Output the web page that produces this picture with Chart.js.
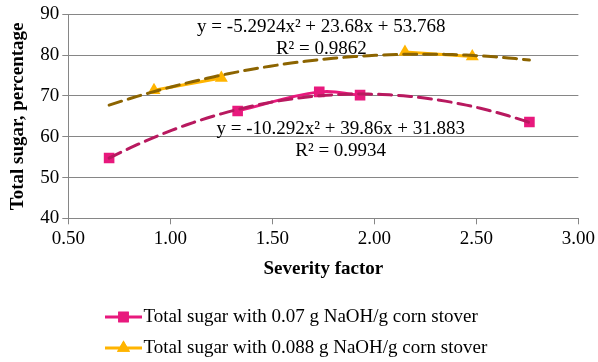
<!DOCTYPE html>
<html>
<head>
<meta charset="utf-8">
<script src="https://cdn.jsdelivr.net/npm/chart.js@4"></script>
<style>
  body { margin: 0; background: #fff; }
  #wrap { width: 598px; height: 362px; }
</style>
</head>
<body>
<div id="wrap"><canvas id="myChart" width="598" height="362"></canvas></div>
<script>
// severity factor (x) and total sugar (%) per series; null = gap in the line
const pinkX = [0.70, null, 1.33, 1.73, 1.93, null, 2.76];
const pinkY = [54.8, null, 66.3, 71.0, 70.2, null, 63.6];
const yellowX = [0.92, 1.25, null, 2.15, 2.48];
const yellowY = [71.4, 74.4, null, 80.8, 79.7];

// polynomial trendlines printed on the chart: [a, b, c] for a*x^2 + b*x + c
const pinkTrend = [-10.292, 39.86, 31.883];
const yellowTrend = [-5.2924, 23.68, 53.768];
const trendRange = [0.70, 2.76];

const pinkEq = ["y = -10.292x² + 39.86x + 31.883", "R² = 0.9934"];
const yellowEq = ["y = -5.2924x² + 23.68x + 53.768", "R² = 0.9862"];

const legendLabels = [
  "Total sugar with 0.07 g NaOH/g corn stover",
  "Total sugar with 0.088 g NaOH/g corn stover",
];

const PINK = "#e8197d";
const PINK_TREND = "#b8195f";
const YELLOW = "#ffb400";
const OLIVE = "#8c6400";
const GRID = "#868686";
const FONT = "'Liberation Serif', 'Times New Roman', serif";

const toPoints = (xs, ys) => xs.map((x, i) => ({ x: x, y: ys[i] }));

const trendPoints = (coef) => {
  const pts = [];
  const n = 60;
  for (let i = 0; i <= n; i++) {
    const x = trendRange[0] + (trendRange[1] - trendRange[0]) * i / n;
    pts.push({ x: x, y: coef[0] * x * x + coef[1] * x + coef[2] });
  }
  return pts;
};

// equation labels, placed in data units
const eqLabels = {
  id: "eqLabels",
  afterDatasetsDraw(chart) {
    const { ctx, scales } = chart;
    const xs = scales.x, ys = scales.y;
    ctx.save();
    ctx.font = "19px " + FONT;
    ctx.fillStyle = "#000";
    ctx.textAlign = "center";
    ctx.textBaseline = "middle";
    ctx.fillText(yellowEq[0], xs.getPixelForValue(1.74), ys.getPixelForValue(87.0));
    ctx.fillText(yellowEq[1], xs.getPixelForValue(1.74), ys.getPixelForValue(81.6));
    ctx.fillText(pinkEq[0], xs.getPixelForValue(1.835), ys.getPixelForValue(62.0));
    ctx.fillText(pinkEq[1], xs.getPixelForValue(1.835), ys.getPixelForValue(56.6));
    ctx.restore();
  },
};

// legend below the chart: line with marker, then label
const bottomLegend = {
  id: "bottomLegend",
  afterDraw(chart) {
    const ctx = chart.ctx;
    const rows = [
      { color: PINK, style: "rect", y: 317 },
      { color: YELLOW, style: "triangle", y: 348 },
    ];
    ctx.save();
    rows.forEach((r, i) => {
      ctx.strokeStyle = r.color;
      ctx.lineWidth = 3;
      ctx.beginPath();
      ctx.moveTo(105, r.y);
      ctx.lineTo(142, r.y);
      ctx.stroke();
      ctx.fillStyle = r.color;
      Chart.helpers.drawPoint(ctx, { pointStyle: r.style, radius: 7.5, borderWidth: 0 }, 123.5, r.y);
      ctx.fill();
      ctx.fillStyle = "#000";
      ctx.font = "19px " + FONT;
      ctx.textAlign = "left";
      ctx.textBaseline = "middle";
      ctx.fillText(legendLabels[i], 143.5, r.y);
    });
    ctx.restore();
  },
};

const ctx = document.getElementById("myChart").getContext("2d");
new Chart(ctx, {
  type: "scatter",
  data: {
    datasets: [
      {
        label: "pink trend",
        data: trendPoints(pinkTrend),
        showLine: true,
        borderColor: PINK_TREND,
        borderWidth: 3,
        borderDash: [13, 7],
        borderCapStyle: "round",
        pointRadius: 0,
      },
      {
        label: "yellow trend",
        data: trendPoints(yellowTrend),
        showLine: true,
        borderColor: OLIVE,
        borderWidth: 3,
        borderDash: [13, 7],
        borderCapStyle: "round",
        pointRadius: 0,
      },
      {
        label: legendLabels[0],
        data: toPoints(pinkX, pinkY),
        showLine: true,
        tension: 0.4,
        borderColor: PINK,
        borderWidth: 3,
        pointStyle: "rect",
        pointRadius: 7.5,
        pointBackgroundColor: PINK,
        pointBorderWidth: 0,
      },
      {
        label: legendLabels[1],
        data: toPoints(yellowX, yellowY),
        showLine: true,
        borderColor: YELLOW,
        borderWidth: 3,
        pointStyle: "triangle",
        pointRadius: 7.5,
        pointBackgroundColor: YELLOW,
        pointBorderWidth: 0,
      },
    ],
  },
  options: {
    responsive: false,
    animation: false,
    layout: { padding: { top: 12.7, right: 18.7, bottom: 81.3, left: 0 } },
    plugins: {
      legend: { display: false },
      tooltip: { enabled: false },
    },
    scales: {
      x: {
        type: "linear",
        min: 0.5,
        max: 3.0,
        afterFit: (s) => { s.height = 62.4; },
        ticks: {
          stepSize: 0.5,
          padding: 3,
          color: "#000",
          font: { family: FONT, size: 19 },
          callback: (v) => v.toFixed(2),
        },
        grid: { drawOnChartArea: false, drawTicks: true, tickLength: 6, color: GRID },
        border: { color: GRID },
        title: {
          display: true,
          text: "Severity factor",
          color: "#000",
          font: { family: FONT, size: 19, weight: "bold" },
          padding: { top: 0, bottom: 0 },
        },
      },
      y: {
        min: 40,
        max: 90,
        afterFit: (s) => { s.width = 68.3; },
        ticks: {
          stepSize: 10,
          padding: 3,
          color: "#000",
          font: { family: FONT, size: 19 },
        },
        grid: { color: GRID, tickLength: 6 },
        border: { color: GRID },
        title: {
          display: true,
          text: "Total sugar, percentage",
          color: "#000",
          font: { family: FONT, size: 19, weight: "bold" },
          padding: { top: 7, bottom: 0 },
        },
      },
    },
  },
  plugins: [eqLabels, bottomLegend],
});
</script>
</body>
</html>
